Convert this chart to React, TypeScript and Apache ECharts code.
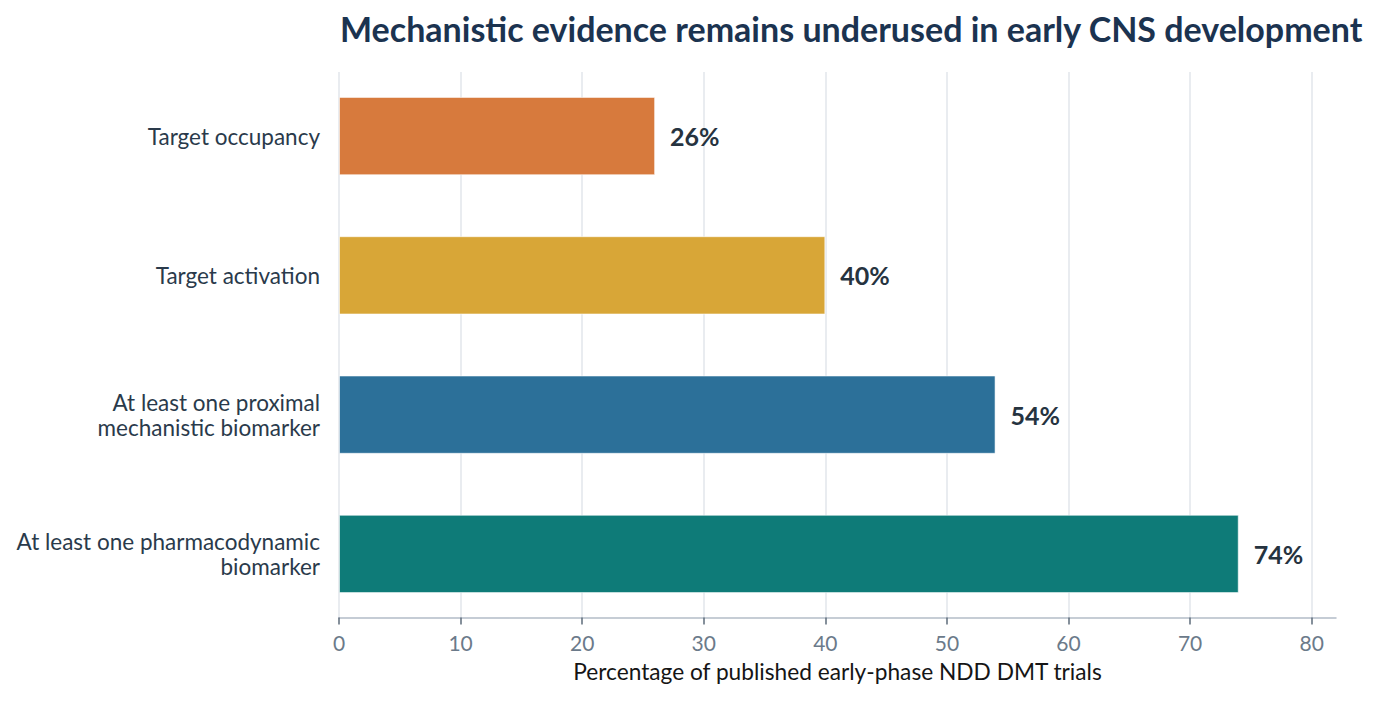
import React, { useEffect, useRef } from "react";
import * as echarts from "echarts";

const TITLE = "Mechanistic evidence remains underused in early CNS development";
const X_NAME = "Percentage of published early-phase NDD DMT trials";
const categories = [
  "Target occupancy",
  "Target activation",
  "At least one proximal\nmechanistic biomarker",
  "At least one pharmacodynamic\nbiomarker",
];
const values = [26, 40, 54, 74];
const barColors = ["#d77a3d", "#d8a637", "#2c7099", "#0e7b78"];
const tickMax = 80;
const axisMax = 82;

const FONT = "Lato, 'Noto Sans', sans-serif";

export default function App() {
  const ref = useRef<HTMLDivElement>(null);
  useEffect(() => {
    if (!ref.current) return;
    document.body.style.margin = "0";
    const chart = echarts.init(ref.current, null, { renderer: "svg" });
    const W = 1379;
    const H = 701;
    const plotLeft = 339;
    const axisEnd = 1336;
    const axisY = 617.5;
    const unit = (axisEnd - plotLeft) / axisMax;
    const tickRight = W - (plotLeft + unit * tickMax);
    const catTop = 66.4;
    const catBottom = 623.6;
    chart.setOption({
      animation: false,
      backgroundColor: "#ffffff",
      textStyle: { fontFamily: FONT },
      title: {
        text: TITLE,
        left: 335,
        top: 6,
        textStyle: { fontFamily: FONT, fontSize: 34, fontWeight: "bold", color: "#1b3350" },
      },
      grid: [
        { left: plotLeft, right: W - axisEnd, top: catTop, bottom: H - catBottom, containLabel: false },
        { left: plotLeft, right: tickRight, top: 72, bottom: H - axisY, containLabel: false },
      ],
      xAxis: [
        {
          type: "value",
          gridIndex: 0,
          min: 0,
          max: axisMax,
          offset: -(catBottom - axisY),
          axisLine: { show: true, lineStyle: { color: "#b3bcc7", width: 1.5 } },
          axisTick: { show: false },
          axisLabel: { show: false },
          splitLine: { show: false },
          name: X_NAME,
          nameLocation: "middle",
          nameGap: 42,
          nameTextStyle: { fontFamily: FONT, fontSize: 22.7, color: "#151515" },
        },
        {
          type: "value",
          gridIndex: 1,
          min: 0,
          max: tickMax,
          interval: 10,
          axisLine: { show: false },
          axisTick: { show: true, length: 7, lineStyle: { color: "#5d6b7a", width: 1.5 } },
          axisLabel: { show: true, margin: 14, fontFamily: FONT, fontSize: 21, color: "#6b7a8a" },
          splitLine: { show: true, lineStyle: { color: "#e2e6eb", width: 1.5 } },
        },
      ],
      yAxis: [
        {
          type: "category",
          gridIndex: 0,
          data: categories,
          inverse: true,
          axisLine: { show: false },
          axisTick: { show: false },
          axisLabel: {
            margin: 19,
            fontFamily: FONT,
            fontSize: 22.5,
            lineHeight: 25,
            color: "#2a3a4b",
            align: "right",
          },
          splitLine: { show: false },
        },
        {
          type: "value",
          gridIndex: 1,
          show: false,
        },
      ],
      series: [
        {
          type: "bar",
          xAxisIndex: 0,
          yAxisIndex: 0,
          barWidth: "56.2%",
          data: values.map((v, i) => ({
            value: v,
            itemStyle: { color: barColors[i], borderColor: "rgba(255,255,255,0.55)", borderWidth: 1 },
          })),
          label: {
            show: true,
            position: "right",
            distance: 15,
            formatter: "{c}%",
            fontFamily: FONT,
            fontSize: 25,
            fontWeight: "bold",
            color: "#26333f",
          },
        },
      ],
    });
    return () => chart.dispose();
  }, []);
  return <div ref={ref} style={{ width: 1379, height: 701 }} />;
}
